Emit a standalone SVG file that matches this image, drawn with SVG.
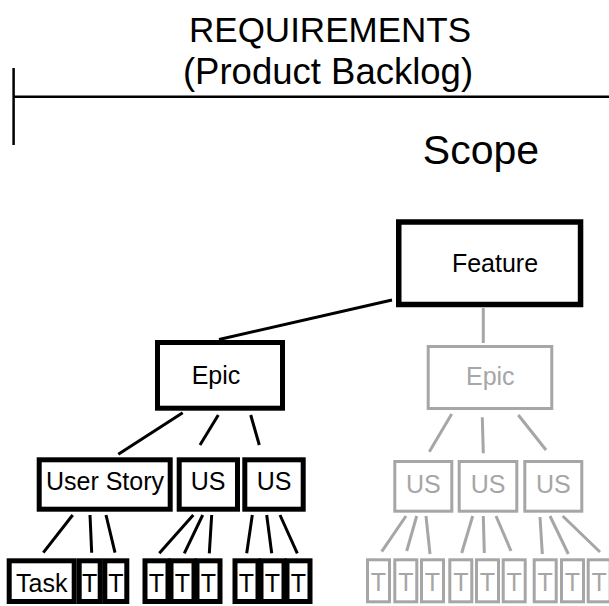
<svg xmlns="http://www.w3.org/2000/svg" width="609" height="606" viewBox="0 0 609 606">
<style>
text{font-family:"Liberation Sans",Arial,sans-serif;text-anchor:middle}
.big{font-size:35px;fill:#000}
.lbl{font-size:25px;fill:#000}
.glbl{font-size:25px;fill:#a6a6a6}
.bn{fill:#fff;stroke:#000;stroke-width:5}
.gn{fill:#fff;stroke:#a6a6a6;stroke-width:3}
.bl{stroke:#000;stroke-width:3;fill:none}
.gl{stroke:#a6a6a6;stroke-width:3;fill:none}
</style>
<rect width="609" height="606" fill="#fff"/>
<g id="header">
<text class="big" x="330" y="42">REQUIREMENTS</text>
<text class="big" x="328" y="84" style="font-size:36.5px">(Product Backlog)</text>
<line x1="13.6" y1="96.7" x2="609" y2="96.7" stroke="#000" stroke-width="2.5"/>
<line x1="13.6" y1="68" x2="13.6" y2="145" stroke="#000" stroke-width="2.5"/>
<text x="481" y="164" style="font-size:41px">Scope</text>
</g>
<g id="connectors">
<line class="bl" x1="392" y1="300" x2="219" y2="339.5"/>
<line class="bl" x1="182.7" y1="412.7" x2="118.3" y2="454.3"/>
<line class="bl" x1="218.3" y1="415" x2="200" y2="445"/>
<line class="bl" x1="250.7" y1="415" x2="259.3" y2="445"/>
<line class="bl" x1="72.7" y1="515" x2="43.3" y2="552.7"/>
<line class="bl" x1="90" y1="515" x2="91.7" y2="552.7"/>
<line class="bl" x1="106" y1="515" x2="115" y2="552.7"/>
<line class="bl" x1="193.3" y1="515" x2="159.3" y2="553.3"/>
<line class="bl" x1="202.7" y1="515" x2="184.3" y2="553.3"/>
<line class="bl" x1="211.7" y1="515" x2="209.3" y2="553.3"/>
<line class="bl" x1="252.3" y1="515" x2="246.7" y2="553.3"/>
<line class="bl" x1="266.7" y1="515" x2="271.7" y2="553.3"/>
<line class="bl" x1="280" y1="515" x2="297.3" y2="553.3"/>
<line class="gl" x1="483.3" y1="308" x2="483.3" y2="343"/>
<line class="gl" x1="451.7" y1="414" x2="429.3" y2="451.7"/>
<line class="gl" x1="482.3" y1="417.3" x2="483.3" y2="453.3"/>
<line class="gl" x1="518.3" y1="415" x2="546" y2="450"/>
<line class="gl" x1="406" y1="516" x2="381.7" y2="551.7"/>
<line class="gl" x1="416.7" y1="516" x2="406.7" y2="551"/>
<line class="gl" x1="426" y1="516" x2="430" y2="554"/>
<line class="gl" x1="472.7" y1="516" x2="461.7" y2="553"/>
<line class="gl" x1="483.3" y1="516" x2="484.3" y2="553"/>
<line class="gl" x1="496" y1="516" x2="511" y2="551"/>
<line class="gl" x1="540" y1="517" x2="542.3" y2="554"/>
<line class="gl" x1="550" y1="516" x2="568.3" y2="554"/>
<line class="gl" x1="562.7" y1="516" x2="600" y2="552"/>
</g>
<g id="feature">
<rect class="bn" x="398.75" y="222" width="181.8" height="82.5" style="stroke-width:5.5"/>
<text class="lbl" x="495" y="272">Feature</text>
</g>
<g id="epic1">
<rect class="bn" x="157.5" y="342.5" width="125" height="65.7"/>
<text class="lbl" x="216" y="383.5">Epic</text>
</g>
<g id="epic2">
<rect class="gn" x="428.2" y="346.5" width="123.6" height="62"/>
<text class="glbl" x="490.3" y="384.5">Epic</text>
</g>
<g id="us-userstory">
<rect class="bn" x="39.2" y="459.8" width="131" height="49.4"/>
<text class="lbl" x="105" y="489.5">User Story</text>
</g>
<g id="us1">
<rect class="bn" x="179.2" y="459.8" width="58.3" height="49.4"/>
<text class="lbl" x="208" y="489.5">US</text>
</g>
<g id="us2">
<rect class="bn" x="244.8" y="459.8" width="58.4" height="49.4"/>
<text class="lbl" x="274" y="489.5">US</text>
</g>
<g id="gus1"><rect class="gn" x="394.8" y="461.5" width="57" height="49.7"/><text class="glbl" x="423.3" y="493">US</text></g>
<g id="gus2"><rect class="gn" x="459.2" y="461.5" width="57.6" height="49.7"/><text class="glbl" x="488" y="493">US</text></g>
<g id="gus3"><rect class="gn" x="524.8" y="461.5" width="57" height="49.7"/><text class="glbl" x="553.3" y="493">US</text></g>
<g id="task"><rect class="bn" x="9.2" y="560.8" width="65" height="40.7"/><text class="lbl" x="41.7" y="592">Task</text></g>
<g id="t1"><rect class="bn" x="79.2" y="560.8" width="21" height="40.7"/><text class="lbl" x="89.7" y="592">T</text></g>
<g id="t2"><rect class="bn" x="104.8" y="560.8" width="22" height="40.7"/><text class="lbl" x="115.8" y="592">T</text></g>
<g id="t3"><rect class="bn" x="145" y="560.8" width="23" height="40.7"/><text class="lbl" x="156.5" y="592">T</text></g>
<g id="t4"><rect class="bn" x="171" y="560.8" width="23" height="40.7"/><text class="lbl" x="182.5" y="592">T</text></g>
<g id="t5"><rect class="bn" x="197" y="560.8" width="23" height="40.7"/><text class="lbl" x="208.5" y="592">T</text></g>
<g id="t6"><rect class="bn" x="235" y="560.8" width="23" height="40.7"/><text class="lbl" x="246.5" y="592">T</text></g>
<g id="t7"><rect class="bn" x="261" y="560.8" width="23" height="40.7"/><text class="lbl" x="272.5" y="592">T</text></g>
<g id="t8"><rect class="bn" x="287" y="560.8" width="23" height="40.7"/><text class="lbl" x="298.5" y="592">T</text></g>
<g id="gt1"><rect class="gn" x="367.5" y="559.8" width="22" height="42"/><text class="glbl" x="378.5" y="591">T</text></g>
<g id="gt2"><rect class="gn" x="394.8" y="559.8" width="22" height="42"/><text class="glbl" x="405.8" y="591">T</text></g>
<g id="gt3"><rect class="gn" x="421.5" y="559.8" width="22" height="42"/><text class="glbl" x="432.5" y="591">T</text></g>
<g id="gt4"><rect class="gn" x="449.8" y="559.8" width="22" height="42"/><text class="glbl" x="460.8" y="591">T</text></g>
<g id="gt5"><rect class="gn" x="476.5" y="559.8" width="22" height="42"/><text class="glbl" x="487.5" y="591">T</text></g>
<g id="gt6"><rect class="gn" x="503.2" y="559.8" width="22" height="42"/><text class="glbl" x="514.2" y="591">T</text></g>
<g id="gt7"><rect class="gn" x="534.2" y="559.8" width="22" height="42"/><text class="glbl" x="545.2" y="591">T</text></g>
<g id="gt8"><rect class="gn" x="561.5" y="559.8" width="22" height="42"/><text class="glbl" x="572.5" y="591">T</text></g>
<g id="gt9"><rect class="gn" x="588.2" y="559.8" width="22" height="42"/><text class="glbl" x="599.2" y="591">T</text></g>
</svg>
